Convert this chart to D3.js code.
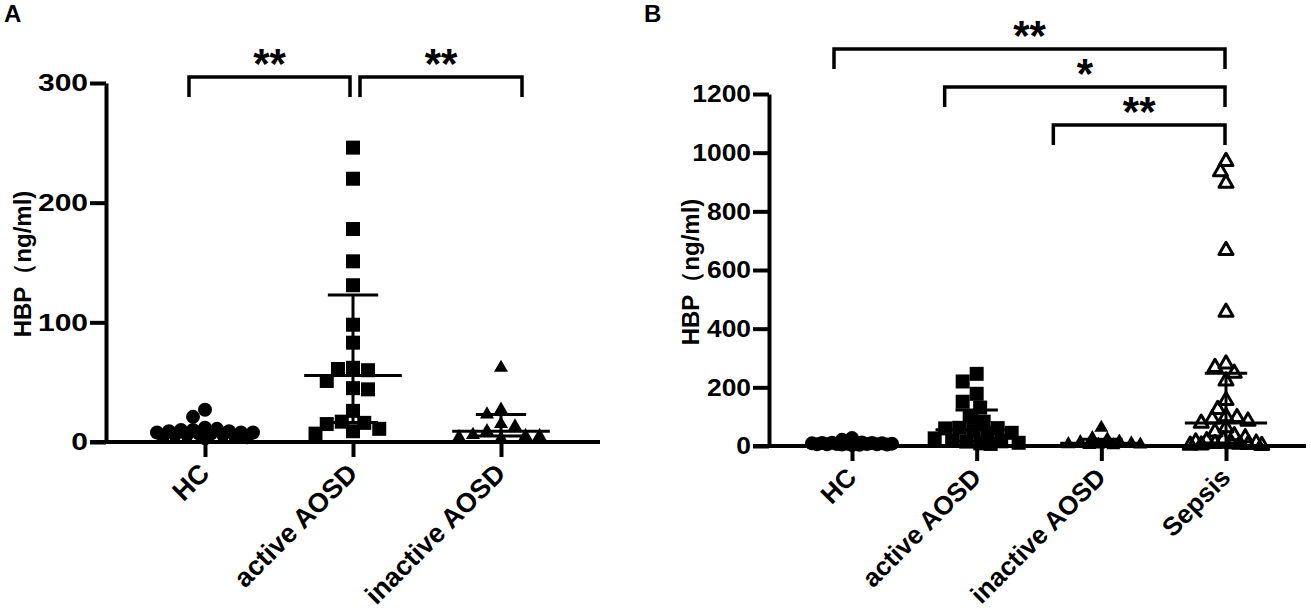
<!DOCTYPE html>
<html>
<head>
<meta charset="utf-8">
<script src="https://d3js.org/d3.v7.min.js"></script>
<style>
  body { margin: 0; background: #fff; }
  svg { font-family: "Liberation Sans", Arial, sans-serif; font-weight: bold; }
</style>
</head>
<body>
<svg width="1311" height="614"></svg>
<script>
  // groups and values (HBP, ng/ml)
  const groupsA = ['HC', 'active AOSD', 'inactive AOSD'];
  const groupsB = ['HC', 'active AOSD', 'inactive AOSD', 'Sepsis'];

  const hcValues = [27, 21, 12, 11, 10, 10, 9, 9, 8, 8, 8, 7, 7, 6, 6, 6, 5, 5, 4, 3];
  const activeValues = [246, 220, 178, 151, 131, 98, 83, 60, 62, 61, 51, 44, 45, 26, 17, 16, 15, 9, 11, 7];
  const inactiveValues = [62, 27, 23, 15, 13, 9, 6, 5, 5, 4, 3];
  const sepsisValues = [970, 935, 896, 667, 456, 280, 268, 248, 222, 155, 125, 100, 97, 92, 85, 78,
                        62, 48, 35, 28, 22, 18, 14, 10, 9, 8, 6, 5, 4, 3, 2];

  const ticksA = [0, 100, 200, 300];
  const ticksB = [0, 200, 400, 600, 800, 1000, 1200];

  const compsA = [['HC', 'active AOSD', '**'], ['active AOSD', 'inactive AOSD', '**']];
  const compsB = [['HC', 'Sepsis', '**'], ['active AOSD', 'Sepsis', '*'], ['inactive AOSD', 'Sepsis', '**']];

  const svg = d3.select('svg');

  // GraphPad style percentile, p*(n+1)
  function pct(vals, p) {
    const s = vals.slice().sort((a, b) => a - b);
    const n = s.length;
    const pos = p * (n + 1);
    if (pos <= 1) return s[0];
    if (pos >= n) return s[n - 1];
    const k = Math.floor(pos);
    return s[k - 1] + (pos - k) * (s[k] - s[k - 1]);
  }

  // bounded beeswarm: spread sideways, overlap once the column is full
  function swarm(vals, y, cx, dist, maxW) {
    const placed = [];
    const order = vals.map((v, i) => i).sort((a, b) => vals[b] - vals[a]);
    const cand = [0];
    for (let k = 1; k * dist / 4 <= maxW; k++) { cand.push(-k * dist / 4, k * dist / 4); }
    order.forEach(i => {
      const py = y(vals[i]);
      let best = null, bestD = -1;
      for (const off of cand) {
        const px = cx + off;
        const md = placed.length ? d3.min(placed, p => Math.hypot(p.x - px, p.y - py)) : Infinity;
        if (md >= dist) { best = px; break; }
        if (md > bestD + 0.01) { bestD = md; best = px; }
      }
      placed.push({ x: best, y: py, v: vals[i] });
    });
    return placed;
  }

  function tri(s) {
    const h = s * 0.87;
    return `M0,${-h * 2 / 3}L${s / 2},${h / 3}L${-s / 2},${h / 3}Z`;
  }

  function drawPanel(cfg) {
    const g = svg.append('g');
    const y = d3.scaleLinear().domain([0, cfg.max]).range([cfg.yBot, cfg.yTop]);
    const x = d3.scalePoint().domain(cfg.groups).range(cfg.xRange);
    const step = x.step();

    // panel letter
    g.append('text').attr('x', cfg.letterX).attr('y', 22)
      .attr('font-size', 24).text(cfg.letter);

    // y axis
    const yAxis = g.append('g').attr('transform', `translate(${cfg.x0},0)`)
      .call(d3.axisLeft(y).tickValues(cfg.ticks).tickFormat(d3.format('d'))
        .tickSize(16).tickPadding(2).tickSizeOuter(0));
    yAxis.select('.domain').attr('stroke-width', 4);
    yAxis.selectAll('.tick line').attr('stroke-width', 4);
    yAxis.selectAll('.tick text').attr('font-size', 24).attr('fill', '#000')
      .attr('font-family', '"Liberation Sans", Arial, sans-serif').attr('font-weight', 'bold')
      .each(function () {
        if (cfg.tickStretch !== 1) {
          const w = this.getComputedTextLength();
          d3.select(this).attr('textLength', w * cfg.tickStretch).attr('lengthAdjust', 'spacingAndGlyphs');
        }
      });

    // x axis
    const xAxis = g.append('g').attr('transform', `translate(0,${cfg.yBot})`)
      .call(d3.axisBottom(x).tickSize(15).tickSizeOuter(0).tickFormat(''));
    xAxis.select('.domain').attr('d', `M${cfg.x0 - 16},0H${cfg.xEnd}`).attr('stroke-width', 4);
    xAxis.selectAll('.tick line').attr('stroke-width', 4);

    g.selectAll('.cat').data(cfg.groups).enter().append('text')
      .attr('class', 'cat')
      .attr('transform', d => `translate(${x(d) + 6},${cfg.yBot + 33}) rotate(-45)`)
      .attr('text-anchor', 'end').attr('font-size', cfg.catSize).text(d => d);

    // y label
    g.append('text')
      .attr('transform', `translate(${cfg.labelX},${cfg.labelY}) rotate(-90)`)
      .attr('text-anchor', 'middle').attr('font-size', 24).text('HBP（ng/ml)');

    // points + median/IQR
    cfg.series.forEach(s => {
      const cx = x(s.name);
      const pts = swarm(s.values, y, cx, s.dist, s.maxW);
      const sel = g.append('g').selectAll('path').data(pts).enter().append('path')
        .attr('transform', p => `translate(${p.x},${p.y})`);
      if (s.shape === 'circle') sel.attr('d', d3.symbol(d3.symbolCircle, Math.PI * 49)()).attr('fill', '#000');
      if (s.shape === 'square') sel.attr('d', 'M-7,-7h14v14h-14Z').attr('fill', '#000');
      if (s.shape === 'tri') sel.attr('d', tri(14)).attr('fill', '#000');
      if (s.shape === 'opentri') sel.attr('d', tri(14)).attr('fill', 'none')
        .attr('stroke', '#000').attr('stroke-width', 3).attr('stroke-linejoin', 'round');

      const q1 = y(pct(s.values, 0.25)), md = y(pct(s.values, 0.5)), q3 = y(pct(s.values, 0.75));
      const st = g.append('g').attr('stroke', '#000').attr('stroke-width', 3);
      st.append('line').attr('x1', cx).attr('x2', cx).attr('y1', q1).attr('y2', q3);
      st.append('line').attr('x1', cx - step * 0.17).attr('x2', cx + step * 0.17).attr('y1', q1).attr('y2', q1);
      st.append('line').attr('x1', cx - step * 0.17).attr('x2', cx + step * 0.17).attr('y1', q3).attr('y2', q3);
      st.append('line').attr('x1', cx - step * 0.33).attr('x2', cx + step * 0.33).attr('y1', md).attr('y2', md);
    });

    // significance brackets
    cfg.comps.forEach((c, i) => {
      const b = cfg.brackets[i];
      const x1 = x(c[0]) + b.dl, x2 = x(c[1]) + b.dr;
      g.append('path')
        .attr('d', `M${x1},${b.y + 20}V${b.y}H${x2}V${b.y + 20}`)
        .attr('fill', 'none').attr('stroke', '#000').attr('stroke-width', 3.5);
      g.append('text').attr('x', (x1 + x2) / 2).attr('y', b.y + 1)
        .attr('text-anchor', 'middle').attr('font-size', 42).text(c[2]);
    });
  }

  drawPanel({
    letter: 'A', letterX: 4, groups: groupsA, max: 300, ticks: ticksA, tickStretch: 1.25,
    x0: 106, yTop: 83, yBot: 442, xRange: [205, 501], xEnd: 600,
    labelX: 31, labelY: 264, catSize: 27,
    series: [
      { name: 'HC', values: hcValues, shape: 'circle', dist: 12, maxW: 48 },
      { name: 'active AOSD', values: activeValues, shape: 'square', dist: 15, maxW: 40 },
      { name: 'inactive AOSD', values: inactiveValues, shape: 'tri', dist: 14, maxW: 46 }
    ],
    comps: compsA,
    brackets: [{ dl: -16, dr: -3, y: 77 }, { dl: 7, dr: 21, y: 77 }]
  });

  drawPanel({
    letter: 'B', letterX: 644, groups: groupsB, max: 1200, ticks: ticksB, tickStretch: 1.1,
    x0: 769, yTop: 94, yBot: 446, xRange: [852, 1226], xEnd: 1306,
    labelX: 699, labelY: 272, catSize: 26,
    series: [
      { name: 'HC', values: hcValues, shape: 'circle', dist: 10, maxW: 40 },
      { name: 'active AOSD', values: activeValues, shape: 'square', dist: 14, maxW: 42 },
      { name: 'inactive AOSD', values: inactiveValues, shape: 'tri', dist: 12, maxW: 40 },
      { name: 'Sepsis', values: sepsisValues, shape: 'opentri', dist: 11, maxW: 38 }
    ],
    comps: compsB,
    brackets: [{ dl: -18, dr: -1, y: 49 }, { dl: -32, dr: -1, y: 87 }, { dl: -48, dr: -1, y: 125 }]
  });
</script>
</body>
</html>
